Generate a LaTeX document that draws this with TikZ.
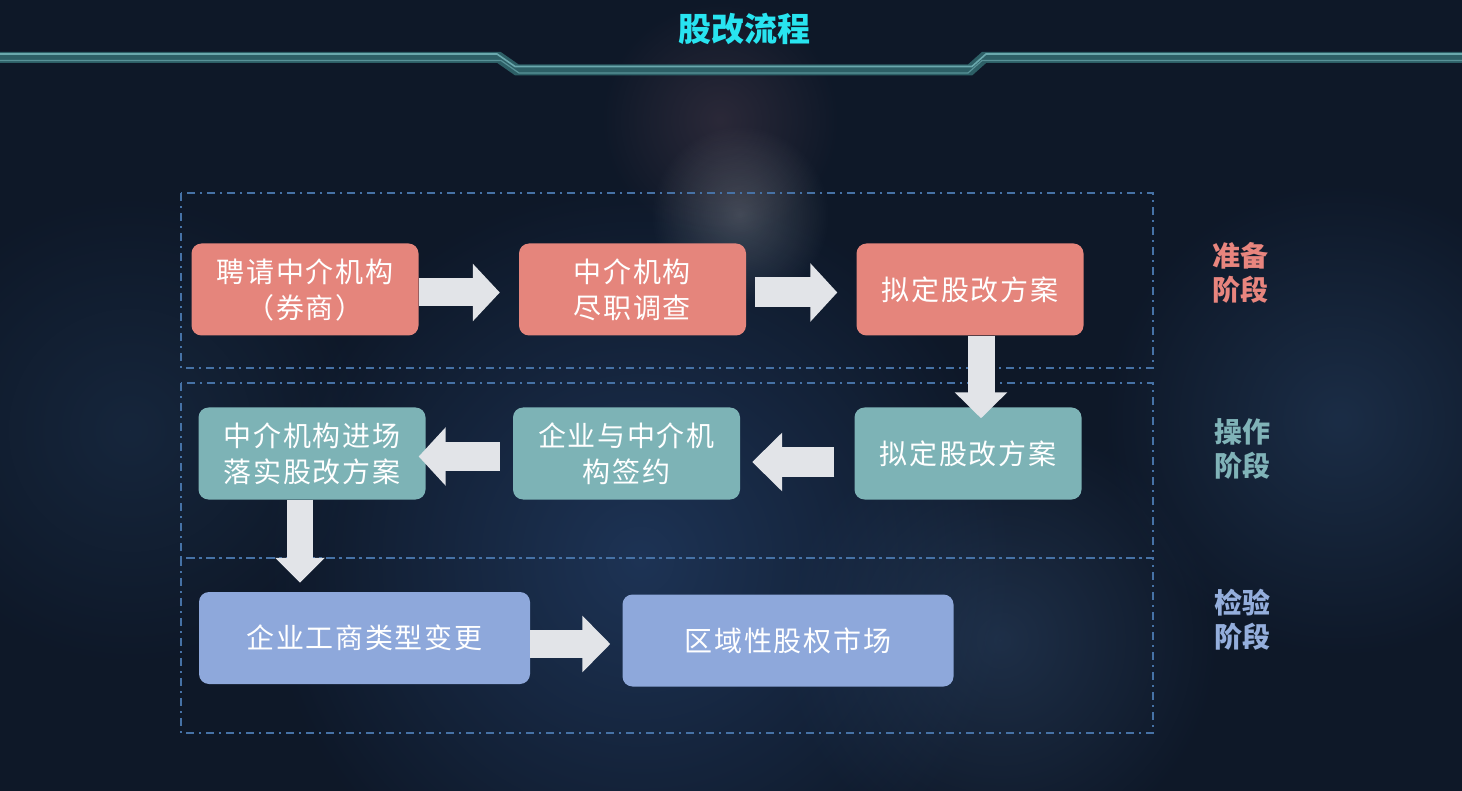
\documentclass[tikz,border=0pt]{standalone}
\usepackage{fontspec}
\setmainfont{Noto Sans CJK SC}
\newfontfamily\boxfont[LetterSpace=6]{Noto Sans CJK SC}
\newfontfamily\labfont{Noto Sans CJK SC}
\usetikzlibrary{arrows.meta,fadings,calc}
\definecolor{bg}{HTML}{0E1828}
\definecolor{pinkc}{HTML}{E5857C}
\definecolor{tealc}{HTML}{7DB3B6}
\definecolor{bluec}{HTML}{8EA8DB}
\definecolor{pinkl}{HTML}{E8857E}
\definecolor{teall}{HTML}{80B3B8}
\definecolor{bluel}{HTML}{94AEDC}
\definecolor{arrowc}{HTML}{E2E4E8}
\definecolor{dashc}{HTML}{4672A6}
\definecolor{barc}{HTML}{2D5F66}
\definecolor{barl}{HTML}{6AA8AD}
\definecolor{titlec}{HTML}{28E4F0}
\definecolor{glowa}{HTML}{2A4A7A}
\definecolor{glowb}{HTML}{284264}
\definecolor{glowc}{HTML}{1E3450}
\definecolor{glowd}{HTML}{6E505F}
\definecolor{glowe}{HTML}{3C5A82}
\tikzfading[name=glow, inner color=transparent!0, outer color=transparent!100]
\begin{document}
\begin{tikzpicture}[x=1pt,y=-1pt,
  flowbox/.style={rounded corners=10pt, inner sep=0pt, align=center, text=white,
    node font=\boxfont\fontsize{28}{36}\selectfont},
  pinkbox/.style={flowbox, fill=pinkc, minimum width=227pt, minimum height=92pt},
  tealbox/.style={flowbox, fill=tealc, minimum width=227pt, minimum height=92pt},
  bluebox/.style={flowbox, fill=bluec, minimum width=331pt, minimum height=92pt},
  stagelab/.style={align=center, inner sep=0pt, node font=\labfont\bfseries\fontsize{28}{34}\selectfont},
  stageframe/.style={draw=dashc, line width=2pt, dash pattern=on 8pt off 5pt on 2pt off 5pt},
  fat/.style={draw=arrowc, line width=28pt, -{Triangle[length=27pt 0 0, width=56pt 0 0]}},
  glowspot/.style={path fading=glow}
]
\useasboundingbox (0,0) rectangle (1462,791);
% background
\fill[bg] (0,0) rectangle (1462,791);
\fill[glowspot, fill=glowa, fill opacity=0.55] (640,560) circle (380pt);
\fill[glowspot, fill=glowb, fill opacity=0.5] (1340,420) circle (240pt);
\fill[glowspot, fill=glowc, fill opacity=0.5] (130,430) circle (240pt);
\fill[glowspot, fill=glowd, fill opacity=0.3] (720,120) circle (120pt);
\fill[glowspot, fill=white, fill opacity=0.2] (740,215) circle (90pt);
\fill[glowspot, fill=glowe, fill opacity=0.35] (1000,640) circle (220pt);
% title bar
\draw[line width=11pt, barc] (0,57.5) -- (499,57.5) -- (517,70) -- (970,70) -- (984,57.5) -- (1462,57.5);
\draw[line width=1.6pt, barl] (0,54) -- (497,54) -- (515,66.5) -- (972,66.5) -- (986,54) -- (1462,54);
\draw[line width=1.2pt, barl!70!barc] (0,60.5) -- (501,60.5) -- (519,73) -- (968,73) -- (982,60.5) -- (1462,60.5);
\node[text=titlec, inner sep=0pt, font=\labfont\bfseries\fontsize{33}{36}\selectfont] (title) at (744,29) {股改流程};
% stage frames
\draw[stageframe] (181,193) rectangle (1153,368);
\draw[stageframe] (181,383) rectangle (1153,558);
\draw[stageframe] (181,558) rectangle (1153,733);
% boxes
\node[pinkbox] (A) at (305,289.5) {聘请中介机构\\（券商）};
\node[pinkbox] (B) at (632.5,289.5) {中介机构\\尽职调查};
\node[pinkbox] (C) at (970,289.5) {拟定股改方案};
\node[tealbox] (D) at (968,453.5) {拟定股改方案};
\node[tealbox] (E) at (626.5,453.5) {企业与中介机\\构签约};
\node[tealbox] (F) at (312,453.5) {中介机构进场\\落实股改方案};
\node[bluebox] (G) at (364.5,638) {企业工商类型变更};
\node[bluebox] (H) at (788,640.5) {区域性股权市场};
% stage labels
\node[stagelab, text=pinkl] (s1) at (1240,273) {准备\\阶段};
\node[stagelab, text=teall] (s2) at (1242,449) {操作\\阶段};
\node[stagelab, text=bluel] (s3) at (1242,620) {检验\\阶段};
% arrows
\draw[fat, shorten >=19pt] ($(A.east)+(0,3)$) -- ($(B.west)+(0,3)$);
\draw[fat, shorten <=9pt, shorten >=19pt, line width=30pt, -{Triangle[length=27pt 0 0, width=57pt 0 0]}] ($(B.east)+(0,3)$) -- ($(C.west)+(0,3)$);
\draw[fat, line width=27pt, shorten >=-11pt, -{Triangle[length=26pt 0 0, width=51pt 0 0]}] ($(C.south)+(11,0)$) -- ($(C.south |- D.north)+(11,0)$);
\draw[fat, line width=30pt, shorten <=20pt, shorten >=12pt, -{Triangle[length=30pt 0 0, width=57pt 0 0]}] ($(D.west)+(0,8.5)$) -- ($(D.west -| E.east)+(0,8.5)$);
\draw[fat, line width=29pt, shorten <=13pt, shorten >=-7pt, -{Triangle[length=27pt 0 0, width=57pt 0 0]}] ($(E.west)+(0,3)$) -- ($(E.west -| F.east)+(0,3)$);
\draw[fat, line width=26pt, shorten >=9pt, -{Triangle[length=25pt 0 0, width=48pt 0 0]}] ($(F.south)+(-12,0)$) -- ($(F.south |- G.north)+(-12,0)$);
\draw[fat, shorten >=12pt, -{Triangle[length=28pt 0 0, width=55pt 0 0]}] ($(G.east)+(0,6)$) -- ($(G.east -| H.west)+(0,6)$);
\end{tikzpicture}
\end{document}
